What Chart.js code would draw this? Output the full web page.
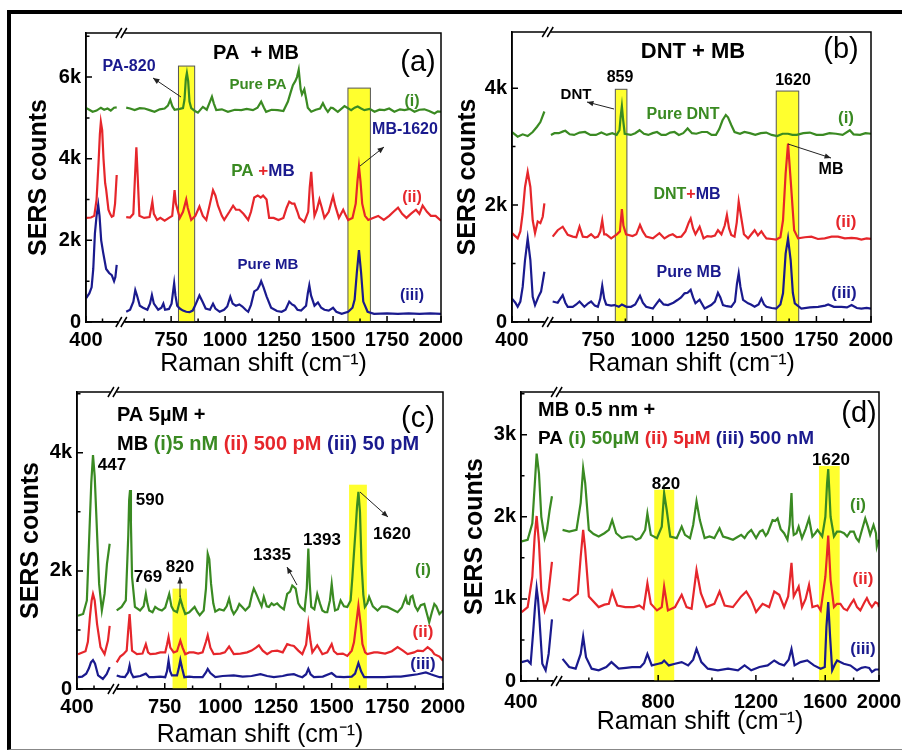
<!DOCTYPE html>
<html>
<head>
<meta charset="utf-8">
<script src="https://cdn.jsdelivr.net/npm/chart.js@4.4.1/dist/chart.umd.min.js"></script>
<style>
  body { margin: 0; background: #fff; }
  #wrap { position: relative; width: 902px; height: 754px; overflow: hidden; background: #fff; }
  #frame { position: absolute; left: 7px; top: 10px; width: 900px; height: 735px;
           border-left: 4px solid #000; border-top: 4px solid #000; border-bottom: 1px solid #888; }
  canvas { position: absolute; left: 0; top: 0; }
</style>
</head>
<body>
<div id="wrap">
  <div id="frame"></div>
  <canvas id="ca" width="902" height="754"></canvas>
  <canvas id="cb" width="902" height="754"></canvas>
  <canvas id="cc" width="902" height="754"></canvas>
  <canvas id="cd" width="902" height="754"></canvas>
</div>
<script>
const GREEN = '#3a8a22', RED = '#e6262b', NAVY = '#1a1a8e';

// tick values (major, labelled) and minor ticks
const xTicksLin = [400, 750, 1000, 1250, 1500, 1750, 2000];
const xMinorLin = [450, 625, 875, 1125, 1375, 1625, 1875];
const xTicksLog = [400, 800, 1200, 1600, 2000];
const xMinorLog = [450, 600, 1000, 1400, 1800];
const yTicksA = [0, 2000, 4000, 6000];
const yMinorA = [1000, 3000, 5000, 7000];
const yTicksB = [0, 2000, 4000];
const yMinorB = [1000, 3000];
const yTicksC = [0, 2000, 4000];
const yMinorC = [1000, 3000, 5000];
const yTicksD = [0, 1000, 2000, 3000];
const yMinorD = [500, 1500, 2500, 3500];

// highlighted bands: [from, to, top]
const bandsA = [[784, 859, 6270], [1569, 1673, 5730]];
const bandsB = [[829, 882, 3980], [1566, 1669, 3950]];
const bandsC = [[785, 850, 1700], [1578, 1658, 3460]];
const bandsD = [[787, 855, 2330], [1559, 1699, 2620]];

// (a) PA + MB  -- null marks the axis break
const paPure = [[400,5240],[410,5200],[420,5150],[432,5180],[445,5250],[455,5200],[465,5230],[475,5180],[485,5250],[493,5260],null,
  [542,5250],[560,5230],[581,5190],[605,5240],[627,5230],[650,5190],[673,5150],[697,5210],[720,5230],[735,5300],[746,5440],[756,5280],[766,5200],[790,5220],[805,5240],[812,5450],[818,5950],[823,6100],[829,5900],[835,5400],[843,5240],[860,5170],[874,5130],[897,5270],[915,5200],[930,5400],[939,5520],[948,5350],[959,5190],[985,5210],[1013,5150],[1045,5200],[1075,5190],[1100,5220],[1129,5190],[1150,5250],[1167,5400],[1180,5250],[1190,5150],[1215,5200],[1244,5190],[1270,5170],[1291,5400],[1305,5650],[1314,5800],[1325,5900],[1333,6000],[1341,6180],[1350,5700],[1356,5580],[1367,5700],[1376,5450],[1383,5250],[1399,5150],[1420,5200],[1440,5230],[1453,5360],[1465,5230],[1476,5150],[1490,5250],[1499,5240],[1522,5150],[1553,5290],[1584,5190],[1600,5250],[1614,5280],[1630,5230],[1645,5190],[1670,5220],[1692,5150],[1715,5200],[1738,5190],[1760,5230],[1784,5150],[1810,5210],[1831,5190],[1855,5220],[1877,5150],[1900,5200],[1923,5210],[1945,5170],[1970,5110],[1985,5160],[2000,5150]];
const paMix = [[400,2550],[415,2560],[425,2600],[432,3000],[438,3900],[442,4600],[445,4900],[449,4700],[453,4000],[458,3400],[461,3250],[468,2750],[473,2650],[478,2580],[483,2600],[488,2900],[493,3600],null,
  [542,2570],[560,2560],[575,2650],[583,3600],[589,4280],[594,3700],[603,2600],[625,2550],[650,2570],[658,2800],[663,2950],[670,2650],[685,2500],[700,2550],[720,2480],[740,2550],[755,2600],[762,3000],[766,3230],[772,2900],[790,2550],[805,2700],[815,2900],[820,3000],[827,2800],[843,2500],[862,2600],[881,2830],[897,2600],[913,2500],[930,2900],[944,3230],[955,3100],[967,2850],[985,2600],[996,2500],[1020,2700],[1037,2850],[1050,2750],[1066,2750],[1085,2650],[1107,2500],[1120,2700],[1135,3050],[1151,3100],[1165,3050],[1176,3100],[1192,3000],[1204,2550],[1225,2550],[1247,2500],[1270,2550],[1285,2800],[1297,2950],[1310,2900],[1321,2900],[1335,2700],[1344,2550],[1367,2450],[1385,2700],[1392,3300],[1399,3680],[1405,3200],[1414,2600],[1425,2750],[1437,3000],[1448,2800],[1460,2550],[1480,2700],[1493,2950],[1500,3080],[1510,2850],[1527,2550],[1547,2750],[1560,2600],[1570,2500],[1590,2550],[1605,2900],[1613,3450],[1620,3810],[1627,3450],[1635,2900],[1648,2600],[1663,2500],[1685,2550],[1709,2600],[1735,2500],[1760,2600],[1780,2700],[1801,2800],[1820,2650],[1840,2550],[1860,2650],[1884,2750],[1900,2650],[1915,2850],[1935,2700],[1953,2600],[1975,2600],[2000,2480]];
const mbPureA = [[400,580],[410,700],[417,850],[422,1300],[427,2170],[432,2600],[437,2870],[441,2600],[446,2000],[452,1700],[461,1300],[470,1200],[478,1150],[485,1000],[489,1100],[493,1400],null,
  [542,250],[560,300],[575,500],[584,780],[592,650],[605,400],[620,350],[640,300],[652,450],[661,660],[670,450],[690,300],[705,350],[714,450],[722,300],[740,320],[752,450],[758,700],[764,950],[770,650],[778,400],[790,330],[805,280],[820,250],[835,240],[850,280],[865,450],[881,650],[895,500],[910,330],[930,300],[944,450],[955,330],[975,250],[995,300],[1010,380],[1024,620],[1035,450],[1050,400],[1066,430],[1080,380],[1095,300],[1107,250],[1120,420],[1135,750],[1150,800],[1160,900],[1167,1000],[1178,850],[1192,630],[1213,350],[1240,270],[1262,250],[1280,300],[1297,500],[1310,430],[1321,400],[1335,300],[1352,280],[1375,400],[1383,700],[1390,900],[1398,650],[1414,400],[1430,480],[1445,350],[1460,300],[1480,280],[1500,350],[1515,250],[1540,200],[1570,250],[1590,350],[1600,550],[1610,1200],[1620,1760],[1630,1200],[1640,500],[1660,250],[1690,200],[1750,210],[1800,200],[1850,210],[1900,200],[1950,210],[2000,200]];

// (b) DNT + MB
const dntPure = [[400,3250],[417,3170],[432,3210],[447,3180],[462,3250],[475,3340],[485,3420],[497,3600],null,
  [534,3200],[550,3230],[570,3230],[590,3260],[600,3270],[620,3210],[640,3200],[665,3240],[690,3250],[715,3200],[740,3200],[765,3240],[790,3200],[815,3230],[835,3200],[848,3280],[853,3500],[859,3690],[865,3450],[872,3220],[900,3200],[920,3230],[940,3280],[960,3220],[980,3200],[1000,3230],[1020,3250],[1040,3200],[1060,3200],[1080,3240],[1100,3250],[1120,3200],[1140,3230],[1160,3310],[1180,3230],[1200,3220],[1225,3250],[1250,3250],[1270,3200],[1290,3200],[1305,3300],[1320,3450],[1335,3540],[1345,3500],[1360,3370],[1375,3250],[1400,3220],[1420,3250],[1445,3230],[1470,3200],[1495,3230],[1520,3240],[1545,3200],[1570,3180],[1595,3220],[1620,3220],[1640,3200],[1660,3200],[1690,3230],[1720,3240],[1750,3200],[1780,3200],[1810,3230],[1840,3220],[1870,3200],[1903,3280],[1920,3210],[1950,3200],[1975,3230],[2000,3220]];
const dntMix = [[400,1520],[417,1430],[425,1550],[432,1860],[439,2310],[447,2570],[455,2310],[462,1740],[469,1520],[477,1720],[485,1690],[492,1800],[497,2030],null,
  [542,1460],[565,1570],[588,1630],[611,1490],[634,1460],[650,1450],[665,1630],[680,1460],[700,1450],[718,1500],[735,1440],[749,1460],[760,1550],[769,1740],[778,1500],[787,1500],[810,1430],[836,1500],[850,1550],[859,1930],[866,1650],[878,1500],[908,1470],[925,1500],[942,1660],[955,1550],[970,1460],[1001,1430],[1031,1520],[1054,1430],[1075,1480],[1092,1500],[1110,1450],[1131,1460],[1150,1550],[1165,1700],[1174,1770],[1185,1600],[1196,1500],[1215,1630],[1233,1430],[1250,1470],[1268,1460],[1285,1480],[1299,1570],[1315,1500],[1330,1650],[1340,1830],[1350,1600],[1360,1490],[1375,1460],[1385,1700],[1394,2060],[1405,1800],[1418,1500],[1437,1430],[1452,1500],[1467,1570],[1482,1480],[1498,1550],[1510,1480],[1521,1430],[1545,1420],[1566,1410],[1585,1450],[1597,1740],[1609,2540],[1620,3050],[1632,2430],[1648,1570],[1666,1430],[1697,1450],[1727,1460],[1757,1420],[1788,1430],[1820,1460],[1849,1460],[1880,1430],[1911,1440],[1935,1430],[1956,1410],[1980,1430],[2000,1420]];
const mbPureB = [[400,400],[410,330],[417,260],[425,350],[432,600],[439,1060],[447,1430],[455,1060],[462,430],[469,290],[479,430],[487,520],[497,860],null,
  [542,350],[565,330],[588,460],[600,330],[611,260],[634,260],[650,300],[665,350],[687,260],[705,320],[718,350],[735,280],[749,260],[760,400],[769,620],[778,400],[787,300],[810,280],[825,290],[845,260],[859,300],[880,260],[901,260],[920,300],[942,450],[955,330],[970,260],[1001,230],[1015,300],[1031,380],[1050,300],[1070,290],[1095,330],[1115,380],[1130,420],[1146,490],[1160,500],[1174,550],[1185,420],[1196,320],[1215,380],[1238,230],[1268,290],[1285,350],[1299,500],[1310,420],[1322,290],[1340,270],[1360,260],[1377,350],[1386,650],[1394,830],[1402,600],[1414,380],[1437,320],[1450,300],[1467,260],[1485,300],[1498,400],[1510,300],[1521,260],[1545,240],[1566,230],[1585,300],[1597,490],[1609,1170],[1620,1430],[1632,1060],[1642,500],[1651,320],[1681,230],[1720,250],[1758,260],[1790,280],[1804,300],[1830,260],[1865,260],[1890,250],[1911,290],[1935,240],[1956,230],[1980,240],[2000,230]];

// (c) PA 5 uM + MB at three concentrations
const mb5nM = [[403,1240],[418,1270],[429,1500],[437,2740],[442,3500],[447,3960],[452,3600],[457,2910],[465,1780],[473,1330],[481,1610],[488,2120],[496,2460],null,
  [534,1330],[556,1390],[575,1500],[586,2600],[590,3200],[594,3370],[598,2800],[603,1900],[616,1390],[639,1330],[655,1400],[665,1610],[672,1450],[680,1330],[695,1300],[707,1390],[722,1350],[737,1330],[752,1380],[770,1610],[780,1400],[790,1330],[805,1300],[820,1530],[830,1400],[842,1270],[860,1300],[884,1390],[897,1300],[907,1250],[925,1330],[935,1700],[943,2290],[950,2200],[958,1780],[968,1450],[977,1310],[995,1350],[1015,1330],[1028,1400],[1039,1530],[1050,1350],[1060,1270],[1075,1350],[1085,1440],[1100,1380],[1112,1330],[1130,1400],[1142,1600],[1150,1700],[1160,1620],[1173,1500],[1185,1400],[1195,1560],[1208,1400],[1218,1390],[1230,1450],[1240,1420],[1255,1450],[1270,1390],[1285,1350],[1300,1610],[1313,1650],[1323,1750],[1333,1720],[1338,1700],[1350,1450],[1360,1390],[1378,1330],[1388,1700],[1395,2380],[1401,1800],[1408,1390],[1422,1350],[1435,1610],[1447,1450],[1458,1330],[1470,1300],[1480,1300],[1492,1500],[1500,1780],[1508,1500],[1515,1330],[1528,1350],[1540,1500],[1555,1400],[1570,1390],[1585,1500],[1593,1900],[1600,2300],[1608,2740],[1614,3100],[1620,3340],[1627,3000],[1634,2120],[1642,1600],[1649,1390],[1660,1450],[1668,1560],[1685,1400],[1706,1330],[1725,1400],[1750,1390],[1770,1350],[1796,1300],[1815,1380],[1833,1560],[1840,1450],[1848,1440],[1855,1560],[1863,1580],[1875,1400],[1886,1330],[1900,1420],[1916,1440],[1926,1300],[1938,1130],[1950,1300],[1961,1440],[1970,1400],[1984,1270],[2000,1330]];
const mb500pM = [[403,590],[425,640],[432,800],[438,1220],[443,1500],[447,1610],[452,1500],[459,1100],[469,710],[481,590],[491,820],[496,1070],null,
  [534,450],[550,550],[564,590],[579,650],[586,1000],[592,1270],[597,1000],[603,650],[625,590],[650,600],[665,760],[675,620],[685,590],[710,600],[730,620],[752,620],[760,750],[767,880],[775,700],[790,620],[805,640],[820,820],[830,700],[842,590],[860,620],[880,620],[900,600],[920,620],[935,800],[943,910],[955,700],[970,590],[1000,600],[1020,620],[1039,720],[1060,590],[1090,600],[1120,620],[1140,650],[1160,700],[1173,740],[1190,650],[1210,590],[1230,640],[1255,650],[1280,620],[1300,760],[1315,740],[1330,730],[1350,650],[1368,590],[1385,750],[1395,1100],[1405,800],[1413,620],[1435,740],[1458,590],[1480,620],[1500,760],[1510,640],[1525,590],[1550,600],[1570,560],[1590,650],[1600,790],[1610,1100],[1620,1410],[1630,1100],[1638,760],[1650,620],[1660,590],[1690,620],[1706,620],[1740,600],[1770,640],[1796,710],[1820,650],[1841,590],[1870,620],[1886,650],[1910,640],[1931,710],[1950,650],[1961,590],[1984,550],[2000,480]];
const mb50pM = [[403,200],[415,210],[427,260],[435,350],[441,450],[447,490],[453,430],[462,230],[476,170],[487,250],[496,370],null,
  [534,230],[550,210],[571,200],[585,280],[592,400],[598,280],[609,200],[640,220],[665,260],[680,200],[700,200],[730,210],[752,200],[760,300],[767,480],[774,300],[782,230],[805,230],[813,350],[820,490],[828,350],[838,200],[860,210],[880,200],[920,200],[935,280],[943,340],[955,270],[977,200],[1010,220],[1060,230],[1100,210],[1140,220],[1180,250],[1210,220],[1240,200],[1280,220],[1300,240],[1330,250],[1350,220],[1368,200],[1385,250],[1395,340],[1405,250],[1420,200],[1460,210],[1500,270],[1520,210],[1555,200],[1590,210],[1605,260],[1620,440],[1632,300],[1646,200],[1690,200],[1736,200],[1780,210],[1811,210],[1850,230],[1886,250],[1923,280],[1945,250],[1961,230],[1985,200],[2000,200]];

// (d) MB 0.5 nM + PA at three concentrations
const pa50uM = [[402,1700],[420,1720],[434,1920],[441,2370],[447,2770],[454,2530],[461,2000],[471,1740],[478,1840],[486,2080],[493,2250],null,
  [538,1840],[553,1820],[570,1840],[580,2170],[586,2590],[591,2410],[600,1840],[612,1790],[625,1760],[640,1800],[652,1840],[661,1960],[672,1800],[688,1740],[705,1760],[718,1760],[730,1720],[743,1740],[758,1840],[765,2040],[776,1780],[796,1740],[812,1880],[820,2290],[829,2080],[841,1760],[864,1740],[882,1880],[894,1780],[913,1740],[925,1900],[938,2190],[951,1960],[970,1740],[990,1760],[1010,1740],[1032,1860],[1047,1760],[1070,1740],[1091,1720],[1110,1750],[1129,1780],[1145,1740],[1160,1800],[1177,1840],[1201,1740],[1220,1820],[1234,1840],[1250,1770],[1260,1800],[1286,1960],[1300,1950],[1313,1980],[1330,1850],[1349,1800],[1368,1720],[1380,1900],[1391,2290],[1398,1900],[1404,1780],[1420,1800],[1433,1880],[1453,1740],[1475,1850],[1496,1980],[1517,1760],[1535,1800],[1550,1840],[1580,1760],[1601,2000],[1612,2400],[1620,2580],[1628,2300],[1636,2000],[1659,1760],[1680,1820],[1704,1820],[1730,1800],[1752,1760],[1775,1820],[1801,1820],[1820,1740],[1839,1700],[1860,1820],[1889,1980],[1910,1880],[1928,1780],[1955,1900],[1975,1800],[1982,1640],[1993,1700],[2000,1720]];
const pa5uM = [[402,840],[420,900],[434,1270],[441,1760],[447,2010],[454,1680],[461,1110],[471,860],[480,980],[488,1270],[493,1450],null,
  [538,1000],[553,980],[573,1060],[580,1510],[586,1840],[591,1600],[600,1030],[625,900],[640,930],[652,940],[661,1090],[675,920],[698,900],[723,900],[740,920],[753,880],[765,1190],[776,940],[796,860],[812,900],[820,1150],[833,860],[858,900],[882,1050],[900,900],[919,880],[938,1350],[955,1070],[977,900],[1010,940],[1032,1090],[1054,920],[1091,900],[1129,1030],[1153,1090],[1177,990],[1201,840],[1234,940],[1268,900],[1295,1090],[1322,1050],[1349,900],[1372,1030],[1391,1440],[1404,1030],[1433,1150],[1453,900],[1475,1000],[1496,1170],[1517,900],[1550,920],[1570,860],[1601,1270],[1612,1550],[1620,1770],[1628,1500],[1636,1230],[1659,900],[1680,940],[1704,940],[1728,880],[1752,860],[1780,940],[1801,990],[1826,900],[1851,860],[1880,950],[1902,1010],[1920,950],[1942,900],[1970,960],[1993,940],[2000,900]];
const pa500nM = [[402,230],[420,250],[429,210],[437,620],[442,900],[447,1130],[451,1000],[455,780],[464,210],[474,130],[483,330],[493,750],null,
  [538,270],[553,170],[568,150],[580,330],[586,540],[593,290],[607,150],[625,130],[645,170],[659,230],[679,150],[700,160],[718,170],[743,170],[755,220],[765,330],[779,190],[801,210],[812,220],[820,250],[836,190],[858,210],[882,230],[906,190],[925,260],[938,390],[957,230],[983,150],[1025,130],[1069,150],[1114,130],[1145,190],[1177,130],[1218,170],[1260,190],[1295,250],[1322,210],[1349,190],[1375,260],[1391,390],[1409,190],[1444,230],[1485,250],[1527,190],[1570,150],[1597,170],[1608,660],[1620,960],[1633,530],[1647,130],[1665,200],[1681,250],[1728,210],[1776,190],[1826,130],[1860,160],[1889,170],[1920,160],[1942,110],[1970,140],[1993,140],[2000,140]];

const FONT = '"Liberation Sans", Arial, sans-serif';
Chart.defaults.font.family = FONT;
Chart.defaults.color = '#000';

// x axis with a break after 500 cm-1; right part linear or logarithmic
class BrokenScale extends Chart.LinearScale {
  frac(v) {
    const o = this.options.brk;
    if (v <= o.b1) return (v - this.min) / (o.b1 - this.min) * o.f1;
    const f = o.log ? Math.log : (t => t);
    return o.f2 + (f(v) - f(o.b2)) / (f(this.max) - f(o.b2)) * (1 - o.f2);
  }
  getPixelForValue(v) {
    if (v === null || v === undefined) return NaN;
    return this.left + this.frac(v) * this.width;
  }
  getValueForPixel(p) {
    const o = this.options.brk;
    const fr = (p - this.left) / this.width;
    if (fr <= o.f1) return this.min + fr / o.f1 * (o.b1 - this.min);
    const t = (fr - o.f2) / (1 - o.f2);
    if (o.log) return Math.exp(Math.log(o.b2) + t * (Math.log(this.max) - Math.log(o.b2)));
    return o.b2 + t * (this.max - o.b2);
  }
}
BrokenScale.id = 'broken';
BrokenScale.defaults = Chart.LinearScale.defaults;
Chart.register(BrokenScale);

function pts(arr) {
  return arr.map(p => p ? { x: p[0], y: p[1] } : { x: 515, y: null });
}

function drawText(ctx, item) {
  ctx.font = item.font;
  ctx.textBaseline = 'middle';
  ctx.textAlign = 'left';
  const w = item.parts.reduce((s, p) => s + ctx.measureText(p[0]).width, 0);
  let x = item.align === 'left' ? item.x : item.x - w / 2;
  item.parts.forEach(p => {
    ctx.fillStyle = p[1];
    ctx.fillText(p[0], x, item.y);
    x += ctx.measureText(p[0]).width;
  });
}

function drawArrow(ctx, a) {
  const [x1, y1, x2, y2] = a;
  const ang = Math.atan2(y2 - y1, x2 - x1);
  ctx.strokeStyle = '#222';
  ctx.fillStyle = '#222';
  ctx.lineWidth = 1;
  ctx.beginPath(); ctx.moveTo(x1, y1); ctx.lineTo(x2, y2); ctx.stroke();
  ctx.beginPath();
  ctx.moveTo(x2, y2);
  ctx.lineTo(x2 - 7 * Math.cos(ang - 0.4), y2 - 7 * Math.sin(ang - 0.4));
  ctx.lineTo(x2 - 7 * Math.cos(ang + 0.4), y2 - 7 * Math.sin(ang + 0.4));
  ctx.closePath(); ctx.fill();
}

const BRK = { b1: 500, b2: 530, f1: 0.093, f2: 0.106 };

function makeChart(id, cfg) {
  const deco = {
    id: 'deco',
    beforeDatasetsDraw(chart) {
      const { ctx, chartArea: ca, scales: { x, y } } = chart;
      ctx.save();
      cfg.bands.forEach(b => {
        const x0 = x.getPixelForValue(b[0]), x1 = x.getPixelForValue(b[1]), yt = y.getPixelForValue(b[2]);
        ctx.fillStyle = '#ffff2e';
        ctx.fillRect(x0, yt, x1 - x0, ca.bottom - yt);
        if (cfg.bandEdge) {
          ctx.strokeStyle = '#555'; ctx.lineWidth = 1;
          ctx.strokeRect(x0, yt, x1 - x0, ca.bottom - yt);
        }
      });
      ctx.restore();
    },
    afterDraw(chart) {
      const { ctx, chartArea: ca, scales: { x, y } } = chart;
      ctx.save();
      ctx.strokeStyle = '#000'; ctx.lineWidth = 1.5;
      ctx.strokeRect(ca.left, ca.top, ca.width, ca.height);
      // inward ticks
      ctx.beginPath();
      cfg.xTicks.concat(cfg.xMinor).forEach((v, i) => {
        const px = x.getPixelForValue(v), len = i < cfg.xTicks.length ? 6 : 3.5;
        ctx.moveTo(px, ca.bottom); ctx.lineTo(px, ca.bottom - len);
      });
      cfg.yTicks.concat(cfg.yMinor).forEach((v, i) => {
        const py = y.getPixelForValue(v), len = i < cfg.yTicks.length ? 6 : 3.5;
        ctx.moveTo(ca.left, py); ctx.lineTo(ca.left + len, py);
      });
      ctx.stroke();
      // axis break marks
      const xb = ca.left + (BRK.f1 + BRK.f2) / 2 * ca.width;
      [ca.top, ca.bottom].forEach(yy => {
        ctx.fillStyle = '#fff';
        ctx.fillRect(xb - 3, yy - 2, 6, 4);
        ctx.beginPath();
        [-2.5, 2.5].forEach(dx => {
          ctx.moveTo(xb + dx - 3, yy + 5);
          ctx.lineTo(xb + dx + 3, yy - 5);
        });
        ctx.stroke();
      });
      cfg.texts.forEach(t => drawText(ctx, t));
      cfg.arrows.forEach(a => drawArrow(ctx, a));
      ctx.restore();
    }
  };

  const area = cfg.area;
  return new Chart(document.getElementById(id), {
    type: 'line',
    data: {
      datasets: cfg.series.map(s => ({
        data: pts(s[0]), borderColor: s[1], borderWidth: 2.2,
        pointRadius: 0, tension: 0, spanGaps: false, fill: false
      }))
    },
    options: {
      responsive: false,
      animation: false,
      events: [],
      layout: { padding: { left: area.l - cfg.yw, top: area.t, right: 902 - area.r, bottom: 754 - area.b - cfg.xh } },
      plugins: { legend: { display: false }, tooltip: { enabled: false } },
      scales: {
        x: {
          type: 'broken', min: 400, max: 2000,
          brk: Object.assign({ log: cfg.log }, BRK),
          afterBuildTicks: s => { s.ticks = cfg.xTicks.map(v => ({ value: v })); },
          afterFit: s => { s.height = cfg.xh; s.paddingLeft = 0; s.paddingRight = 0; },
          grid: { drawOnChartArea: false, drawTicks: false },
          border: { color: '#000', width: 1.5 },
          ticks: { autoSkip: false, maxRotation: 0, padding: cfg.xtp, color: '#000',
                   font: { size: 20, weight: 'bold' }, callback: v => String(v) },
          title: { display: true, text: 'Raman shift (cm⁻¹)', color: '#000',
                   font: { size: 25, lineHeight: 1 }, padding: { top: 0, bottom: cfg.xTitlePad } }
        },
        y: {
          min: 0, max: cfg.ymax,
          afterBuildTicks: s => { s.ticks = cfg.yTicks.map(v => ({ value: v })); },
          afterFit: s => { s.width = cfg.yw; s.paddingTop = 0; s.paddingBottom = 0; },
          grid: { drawOnChartArea: false, drawTicks: false },
          border: { color: '#000', width: 1.5 },
          ticks: { padding: 5, color: '#000', font: { size: 20, weight: 'bold' },
                   callback: v => v === 0 ? '0' : (v / 1000) + 'k' },
          title: { display: true, text: 'SERS counts', color: '#000',
                   font: { size: 25, weight: 'bold', lineHeight: 1 }, padding: { top: cfg.yTitlePad, bottom: 0 } }
        }
      }
    },
    plugins: [deco]
  });
}

const B = n => 'bold ' + n + 'px ' + FONT;
const R = n => n + 'px ' + FONT;

makeChart('ca', {
  area: { l: 86, t: 33, r: 441, b: 322 }, yw: 86, xh: 55, ymax: 7080,
  xTicks: xTicksLin, xMinor: xMinorLin, yTicks: yTicksA, yMinor: yMinorA,
  log: false, xtp: 6, xTitlePad: 0, yTitlePad: 27,
  bands: bandsA, bandEdge: true,
  series: [[paPure, GREEN], [paMix, RED], [mbPureA, NAVY]],
  texts: [
    { parts: [['PA  + MB', '#000']], x: 256, y: 53, font: B(20) },
    { parts: [['(a)', '#000']], x: 418, y: 63, font: R(29) },
    { parts: [['PA-820', NAVY]], x: 129, y: 67, font: B(16) },
    { parts: [['Pure PA', GREEN]], x: 258, y: 85, font: B(15) },
    { parts: [['(i)', GREEN]], x: 412, y: 102, font: B(16) },
    { parts: [['MB-1620', NAVY]], x: 405, y: 130, font: B(16) },
    { parts: [['PA ', GREEN], ['+', RED], ['MB', NAVY]], x: 263, y: 171, font: B(17) },
    { parts: [['(ii)', RED]], x: 412, y: 198, font: B(16) },
    { parts: [['Pure MB', NAVY]], x: 268, y: 265, font: B(15) },
    { parts: [['(iii)', NAVY]], x: 412, y: 296, font: B(16) }
  ],
  arrows: [[181, 97, 153, 78], [360, 166, 384, 147]]
});

makeChart('cb', {
  area: { l: 512, t: 32, r: 871, b: 322 }, yw: 61, xh: 55, ymax: 4960,
  xTicks: xTicksLin, xMinor: xMinorLin, yTicks: yTicksB, yMinor: yMinorB,
  log: false, xtp: 6, xTitlePad: 0, yTitlePad: 5,
  bands: bandsB, bandEdge: true,
  series: [[dntPure, GREEN], [dntMix, RED], [mbPureB, NAVY]],
  texts: [
    { parts: [['DNT + MB', '#000']], x: 693, y: 52, font: B(22) },
    { parts: [['(b)', '#000']], x: 841, y: 50, font: R(29) },
    { parts: [['859', '#000']], x: 620, y: 78, font: B(16) },
    { parts: [['1620', '#000']], x: 793, y: 81, font: B(16) },
    { parts: [['DNT', '#000']], x: 576, y: 95, font: B(15) },
    { parts: [['Pure DNT', GREEN]], x: 683, y: 115, font: B(16) },
    { parts: [['(i)', GREEN]], x: 846, y: 118, font: B(17) },
    { parts: [['MB', '#000']], x: 831, y: 170, font: B(16) },
    { parts: [['DNT', GREEN], ['+', RED], ['MB', NAVY]], x: 687, y: 195, font: B(16) },
    { parts: [['(ii)', RED]], x: 846, y: 222, font: B(17) },
    { parts: [['Pure MB', NAVY]], x: 689, y: 273, font: B(16) },
    { parts: [['(iii)', NAVY]], x: 844, y: 293, font: B(17) }
  ],
  arrows: [[614, 109, 587, 102], [788, 144, 831, 158]]
});

makeChart('cc', {
  area: { l: 77, t: 392, r: 443, b: 689 }, yw: 77, xh: 65, ymax: 5030,
  xTicks: xTicksLin, xMinor: xMinorLin, yTicks: yTicksC, yMinor: yMinorC,
  log: false, xtp: 6, xTitlePad: 6, yTitlePad: 19,
  bands: bandsC, bandEdge: false,
  series: [[mb5nM, GREEN], [mb500pM, RED], [mb50pM, NAVY]],
  texts: [
    { parts: [['PA 5µM +', '#000']], x: 117, y: 415, font: B(20), align: 'left' },
    { parts: [['MB ', '#000'], ['(i)5 nM ', GREEN], ['(ii) 500 pM ', RED], ['(iii) 50 pM', NAVY]], x: 117, y: 444, font: B(20), align: 'left' },
    { parts: [['(c)', '#000']], x: 418, y: 419, font: R(29) },
    { parts: [['447', '#000']], x: 112, y: 465, font: B(17) },
    { parts: [['590', '#000']], x: 150, y: 500, font: B(17) },
    { parts: [['769', '#000']], x: 148, y: 577, font: B(17) },
    { parts: [['820', '#000']], x: 180, y: 567, font: B(17) },
    { parts: [['1335', '#000']], x: 272, y: 555, font: B(17) },
    { parts: [['1393', '#000']], x: 322, y: 540, font: B(17) },
    { parts: [['1620', '#000']], x: 392, y: 534, font: B(17) },
    { parts: [['(i)', GREEN]], x: 423, y: 570, font: B(17) },
    { parts: [['(ii)', RED]], x: 423, y: 632, font: B(17) },
    { parts: [['(iii)', NAVY]], x: 423, y: 664, font: B(17) }
  ],
  arrows: [[180, 597, 180, 577], [297, 585, 287, 567], [360, 492, 388, 517]]
});

makeChart('cd', {
  area: { l: 521, t: 392, r: 879, b: 681 }, yw: 70, xh: 73, ymax: 3520,
  xTicks: xTicksLog, xMinor: xMinorLog, yTicks: yTicksD, yMinor: yMinorD,
  log: true, xtp: 9, xTitlePad: 19, yTitlePad: 12,
  bands: bandsD, bandEdge: false,
  series: [[pa50uM, GREEN], [pa5uM, RED], [pa500nM, NAVY]],
  texts: [
    { parts: [['MB 0.5 nm +', '#000']], x: 538, y: 410, font: B(20), align: 'left' },
    { parts: [['PA ', '#000'], ['(i) 50µM ', GREEN], ['(ii) 5µM ', RED], ['(iii) 500 nM', NAVY]], x: 538, y: 439, font: B(19), align: 'left' },
    { parts: [['(d)', '#000']], x: 859, y: 414, font: R(29) },
    { parts: [['820', '#000']], x: 666, y: 484, font: B(17) },
    { parts: [['1620', '#000']], x: 831, y: 460, font: B(17) },
    { parts: [['(i)', GREEN]], x: 858, y: 505, font: B(17) },
    { parts: [['(ii)', RED]], x: 863, y: 579, font: B(17) },
    { parts: [['(iii)', NAVY]], x: 863, y: 649, font: B(17) }
  ],
  arrows: []
});
</script>
</body>
</html>
